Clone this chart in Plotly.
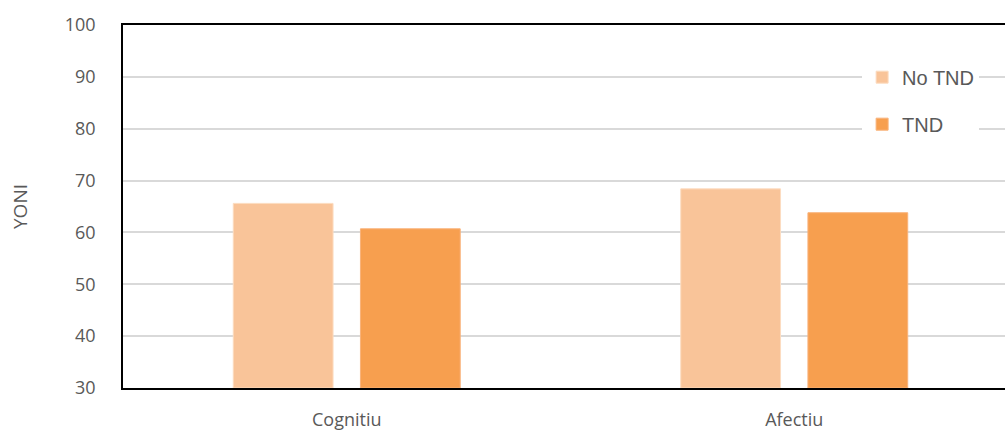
import plotly.graph_objects as go

categories = ["Cognitiu", "Afectiu"]
no_tnd = [65.6, 68.4]
tnd = [60.7, 63.8]
series_names = ["No TND", "TND"]
colors = ["#F9C499", "#F79F4F"]
y_ticks = [30, 40, 50, 60, 70, 80, 90, 100]

fig = go.Figure()
fig.add_trace(go.Bar(x=categories, y=[v - 30 for v in no_tnd], base=30, name=series_names[0],
                     marker=dict(color=colors[0], line=dict(color="#FCDCC0", width=1)),
                     width=0.223, offset=-0.2536, legendgroup="a"))
fig.add_trace(go.Bar(x=categories, y=[v - 30 for v in tnd], base=30, name=series_names[1],
                     marker=dict(color=colors[1], line=dict(color="#F9B27A", width=1)),
                     width=0.223, offset=0.0306, legendgroup="b"))

fig.update_layout(
    width=1005, height=431,
    margin=dict(l=123, r=0, t=25, b=43, autoexpand=False),
    paper_bgcolor="white", plot_bgcolor="white",
    barmode="overlay",
    font=dict(family="Open Sans", size=17, color="#595959"),
    showlegend=True,
    legend=dict(x=0.838, y=0.91, xanchor="left", yanchor="top",
                bgcolor="white", font=dict(size=20, color="#595959", family="Liberation Sans"),
                traceorder="grouped", tracegroupgap=18, itemwidth=30),
    xaxis=dict(type="category", range=[-0.5, 1.471], showgrid=False, automargin=False,
               showline=True, linecolor="black", linewidth=2, mirror=True,
               ticks="", ticklabelstandoff=14, tickfont=dict(size=18, color="#595959")),
    yaxis=dict(range=[30, 100], tickvals=y_ticks, showgrid=True, gridcolor="#D9D9D9", gridwidth=2,
               showline=True, linecolor="black", linewidth=1.5, mirror=True, automargin=False,
               ticks="", ticklabelstandoff=22, tickfont=dict(size=18, color="#595959"),
               zeroline=False,
               title=dict(text="YONI", standoff=32, font=dict(size=19, color="#595959"))),
)

post = ("document.body.style.margin='0';document.body.style.overflow='hidden';"
        "Plotly.relayout('{plot_id}', {width:1005, height:431});")
fig.write_html("out.html", post_script=post, config={"displayModeBar": False})
